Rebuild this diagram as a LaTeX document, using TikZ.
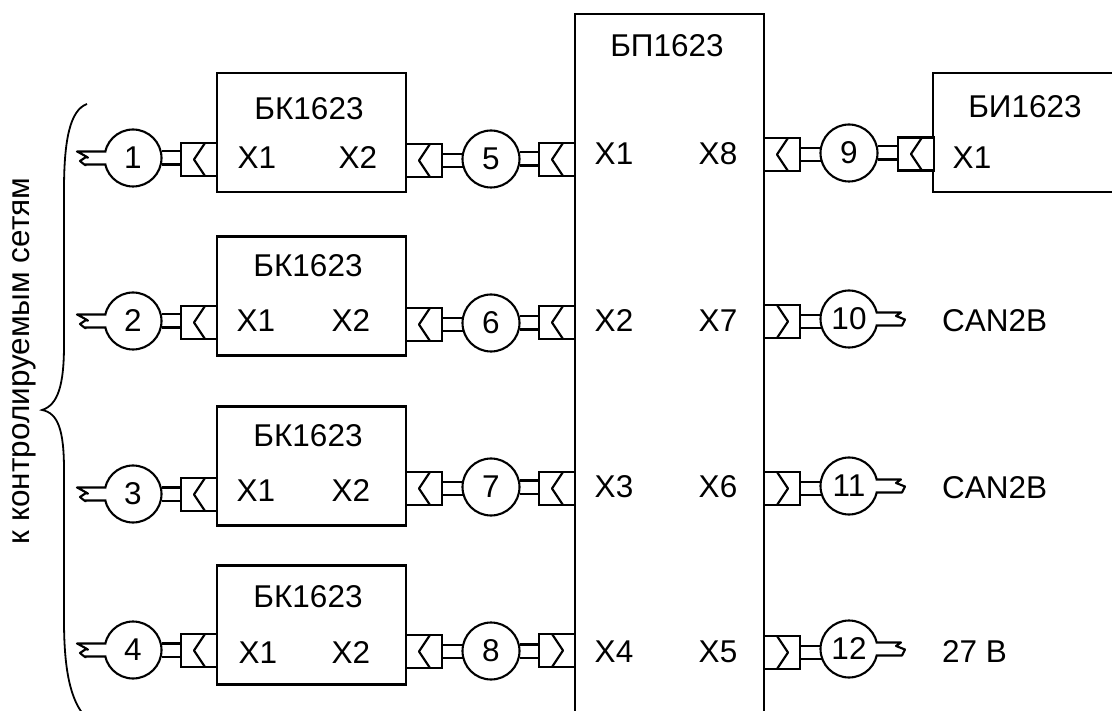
\documentclass[tikz,border=0pt]{standalone}
\usepackage{fontspec}
\setmainfont{Liberation Sans}
\usetikzlibrary{backgrounds}
\tikzset{
  x=1pt,y=-1pt,
  every node/.style={inner sep=0pt,outer sep=0pt},
  ln/.style={line width=2.1pt,black},
  blockbox/.style={ln,draw,fill=white,rectangle},
  sockbox/.style={ln,draw,fill=white,rectangle,minimum width=36pt,minimum height=33pt},
  num/.style={ln,draw,fill=white,circle,minimum size=57pt,font=\fontsize{31.5}{32}\selectfont,text=black},
  lbl/.style={font=\fontsize{31.5}{32}\selectfont,text=black},
  cable/.style={ln,double=white,double distance=11pt},
  wire/.style={ln,line join=round},
}
% socket: name, x, y; chevron pointing left (L) or right (R)
\newcommand{\sockL}[3]{\node[sockbox] (#1) at (#2,#3) {};
  \draw[wire] ([xshift=6pt]#1.north) -- ([xshift=-5pt]#1.center) -- ([xshift=6pt]#1.south);}
\newcommand{\sockR}[3]{\node[sockbox] (#1) at (#2,#3) {};
  \draw[wire] ([xshift=-5pt]#1.north) -- ([xshift=6pt]#1.center) -- ([xshift=-5pt]#1.south);}
% free cable end at the left / right of a circle
\newcommand{\tailL}[1]{
  \draw[wire,fill=white] ([xshift=-27pt,yshift=6.5pt]#1.center) -- ++(-29,0)
    .. controls +(2,1) and +(7,3) .. ++(9,5.5) -- ++(-6,4) .. controls +(1,1) and +(3,3) .. ++(5,3.5)
    -- ([xshift=-27pt,yshift=-6.5pt]#1.center);
}
\newcommand{\tailR}[1]{
  \draw[wire,fill=white] ([xshift=27pt,yshift=6.5pt]#1.center) -- ++(25,0) -- ++(-5,3.5) -- ++(9,3.5)
    -- ++(-3,6) -- ([xshift=27pt,yshift=-6.5pt]#1.center);
}
\begin{document}
\begin{tikzpicture}
\path[use as bounding box,clip] (0,0) rectangle (1112,711);
% blocks
\node[blockbox,minimum width=189pt,minimum height=119pt] (bk1) at (311.5,132.5) {};
\node[blockbox,minimum width=189pt,minimum height=119pt] (bk2) at (311.5,296) {};
\node[blockbox,minimum width=189pt,minimum height=119pt] (bk3) at (311.5,466) {};
\node[blockbox,minimum width=189pt,minimum height=119pt] (bk4) at (311.5,625) {};
\node[blockbox,minimum width=189pt,minimum height=800pt] (bp) at (669.5,414) {};
\node[blockbox,minimum width=240pt,minimum height=119pt] (bi) at (1053,132.5) {};
% sockets
\sockL{s1}{199}{159.5}\sockL{s2}{199}{322.5}\sockL{s3}{199}{494.5}\sockL{s4}{199}{650.5}
\sockL{s1r}{424}{160.5}\sockL{s2r}{424}{324.5}\sockL{s3r}{424}{488.5}\sockL{s4r}{424}{651.5}
\sockL{p1}{557}{159.5}\sockL{p2}{557}{322.5}\sockL{p3}{557}{488.5}\sockR{p4}{557}{650.5}
\sockL{p8}{782}{154.5}\sockR{p7}{782}{321.5}\sockR{p6}{782}{488.5}\sockR{p5}{782}{652.5}
\sockL{b1}{916}{154}
% circles
\node[num] (c1) at (133,158) {1};
\node[num] (c2) at (133,321) {2};
\node[num] (c3) at (133,494) {3};
\node[num] (c4) at (133,650) {4};
\node[num] (c5) at (491,159) {5};
\node[num] (c6) at (491,323) {6};
\node[num] (c7) at (491,487) {7};
\node[num] (c8) at (491,651) {8};
\node[num] (c9) at (849,153) {9};
\node[num] (c10) at (849,319) {10};
\node[num] (c11) at (849,486) {11};
\node[num] (c12) at (849,649) {12};
% cables
\begin{scope}[on background layer]
\draw[cable] (c1) -- (c1-|s1.center);
\draw[cable] (c2) -- (c2-|s2.center);
\draw[cable] (c3) -- (c3-|s3.center);
\draw[cable] (c4) -- (c4-|s4.center);
\draw[cable] (s1r) -- (s1r-|c5.center);
\draw[cable] (s2r) -- (s2r-|c6.center);
\draw[cable] (s3r) -- (s3r-|c7.center);
\draw[cable] (s4r) -- (s4r-|c8.center);
\draw[cable] (c5) -- (c5-|p1.center);
\draw[cable] (c6) -- (c6-|p2.center);
\draw[cable] (c7) -- (c7-|p3.center);
\draw[cable] (c8) -- (c8-|p4.center);
\draw[cable] (p8) -- (p8-|c9.center);
\draw[cable] (c9) -- (c9-|b1.center);
\draw[cable] (p7) -- (p7-|c10.center);
\draw[cable] (p6) -- (p6-|c11.center);
\draw[cable] (p5) -- (p5-|c12.center);
\end{scope}
\tailL{c1}\tailL{c2}\tailL{c3}\tailL{c4}
\tailR{c10}\tailR{c11}\tailR{c12}
% labels
\node[lbl] (t1) at (309,109) {БК1623};
\node[lbl] (t2) at (308,266) {БК1623};
\node[lbl] (t3) at (308,436) {БК1623};
\node[lbl] (t4) at (308,597) {БК1623};
\node[lbl] (tp) at (667,46) {БП1623};
\node[lbl] (ti) at (1025,107) {БИ1623};
\node[lbl] at (257,158) {X1};
\node[lbl] at (358,158) {X2};
\node[lbl] at (256,321) {X1};
\node[lbl] at (351,321) {X2};
\node[lbl] at (256,491) {X1};
\node[lbl] at (351,491) {X2};
\node[lbl] at (258,653) {X1};
\node[lbl] at (351,653) {X2};
\node[lbl] at (614,154) {X1};
\node[lbl] at (614,321) {X2};
\node[lbl] at (614,487) {X3};
\node[lbl] at (614,652) {X4};
\node[lbl] at (718,154) {X8};
\node[lbl] at (718,321) {X7};
\node[lbl] at (718,487) {X6};
\node[lbl] at (718,652) {X5};
\node[lbl] at (972,158) {X1};
\node[lbl,anchor=west] at (942,321) {CAN2B};
\node[lbl,anchor=west] at (942,488) {CAN2B};
\node[lbl,anchor=west] at (942,652) {27 В};
\node[lbl,rotate=90] at (24,361) {к контролируемым сетям};
% brace
\draw[line width=1.8pt,black] (87,104) .. controls (70,110) and (64,140) .. (64,190) -- (64,345)
  .. controls (64,385) and (58,405) .. (42,410) .. controls (58,413) and (64,430) .. (64,470)
  -- (64,620) .. controls (64,660) and (68,695) .. (83,714);
\end{tikzpicture}
\end{document}
